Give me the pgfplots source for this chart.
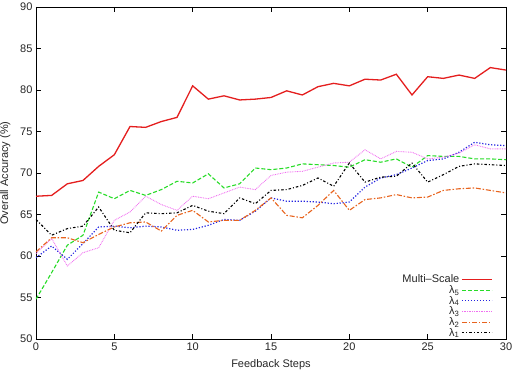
\documentclass[border=0pt]{standalone}
\usepackage{fontspec}
\setmainfont{Liberation Sans}
\usepackage{pgfplots}
\pgfplotsset{compat=1.18}
\definecolor{cRed}{RGB}{228,30,30}
\definecolor{cGreen}{RGB}{40,220,40}
\definecolor{cBlue}{RGB}{35,35,225}
\definecolor{cMag}{RGB}{240,110,240}
\definecolor{cOrange}{RGB}{232,100,30}
\begin{document}
\begin{tikzpicture}
\useasboundingbox (0,0) rectangle (514pt,374pt);
\begin{axis}[
  at={(36pt,35pt)}, anchor=south west,
  scale only axis, width=470pt, height=332pt,
  xmin=0, xmax=30, ymin=50, ymax=90,
  xtick={0,5,...,30}, ytick={50,55,...,90},
  tick align=inside, tick pos=both,
  major tick length=5pt,
  tick style={black, line width=0.6pt},
  axis line style={black, line width=0.6pt},
  /pgf/number format/assume math mode=true,
  tick label style={font=\fontsize{11}{13}\selectfont, text=black!85},
  label style={font=\fontsize{11}{13}\selectfont, text=black!85},
  xlabel={Feedback Steps},
  ylabel={Overall Accuracy (\%)},
  xlabel style={at={(axis description cs:0.5,0)}, anchor=north, yshift=-17pt},
  ylabel style={at={(axis description cs:0,0.5)}, anchor=south, yshift=22pt},
  legend style={draw=none, fill=none, at={(0.972,0.2)}, anchor=north east,
    font=\fontsize{11}{11}\selectfont, text=black!85, row sep=-2.8pt,
    cells={anchor=east}, inner sep=0pt},
  legend plot pos=right,
  legend image code/.code={\draw[#1] (0pt,0pt) -- (30pt,0pt);},
]
\addplot[cRed, line width=1.3pt] coordinates {
(0,67.2)(1,67.3)(2,68.7)(3,69.1)(4,70.8)(5,72.2)(6,75.6)(7,75.5)(8,76.2)(9,76.7)
(10,80.5)(11,78.9)(12,79.3)(13,78.8)(14,78.9)(15,79.1)(16,79.9)(17,79.4)(18,80.4)(19,80.8)
(20,80.5)(21,81.3)(22,81.2)(23,81.9)(24,79.4)(25,81.6)(26,81.4)(27,81.8)(28,81.4)(29,82.7)(30,82.4)};
\addlegendentry{Multi\textendash Scale}
\addplot[cGreen, line width=1.1pt, dash pattern=on 4pt off 2pt] coordinates {
(0,54.8)(1,58.0)(2,61.3)(3,62.5)(4,67.7)(5,66.9)(6,67.9)(7,67.3)(8,68.0)(9,69.0)
(10,68.8)(11,69.9)(12,68.2)(13,68.7)(14,70.6)(15,70.4)(16,70.6)(17,71.1)(18,71.0)(19,70.9)
(20,70.7)(21,71.6)(22,71.3)(23,71.7)(24,70.7)(25,72.1)(26,72.0)(27,72.0)(28,71.7)(29,71.7)(30,71.6)};
\addlegendentry{λ\textsubscript{5}}
\addplot[cBlue, line width=1.2pt, dash pattern=on 1.2pt off 1.8pt] coordinates {
(0,59.8)(1,61.2)(2,59.6)(3,61.5)(4,63.5)(5,63.6)(6,63.4)(7,63.6)(8,63.5)(9,63.1)
(10,63.2)(11,63.7)(12,64.4)(13,64.3)(14,65.4)(15,67.0)(16,66.6)(17,66.6)(18,66.5)(19,66.3)
(20,66.5)(21,68.3)(22,69.4)(23,69.8)(24,70.6)(25,71.5)(26,71.7)(27,72.5)(28,73.7)(29,73.4)(30,73.3)};
\addlegendentry{λ\textsubscript{4}}
\addplot[cMag, line width=0.9pt, dash pattern=on 0.8pt off 0.9pt] coordinates {
(0,60.3)(1,62.1)(2,58.8)(3,60.4)(4,61.0)(5,64.3)(6,65.3)(7,67.2)(8,66.2)(9,65.5)
(10,67.2)(11,66.9)(12,67.6)(13,68.3)(14,68.0)(15,69.7)(16,70.1)(17,70.2)(18,70.7)(19,71.2)
(20,71.3)(21,72.8)(22,71.7)(23,72.6)(24,72.5)(25,71.7)(26,71.9)(27,72.4)(28,73.4)(29,72.9)(30,72.9)};
\addlegendentry{λ\textsubscript{3}}
\addplot[cOrange, line width=1.1pt, dash pattern=on 5pt off 1.8pt on 1.5pt off 1.8pt] coordinates {
(0,60.5)(1,62.2)(2,62.2)(3,61.6)(4,62.6)(5,63.5)(6,64.0)(7,64.1)(8,63.0)(9,64.9)
(10,65.5)(11,64.1)(12,64.3)(13,64.3)(14,65.5)(15,67.0)(16,64.9)(17,64.6)(18,66.1)(19,67.9)
(20,65.5)(21,66.8)(22,67.0)(23,67.4)(24,67.0)(25,67.1)(26,67.9)(27,68.1)(28,68.2)(29,67.9)(30,67.6)};
\addlegendentry{λ\textsubscript{2}}
\addplot[black, line width=1.1pt, dash pattern=on 2.5pt off 2pt on 1pt off 2pt] coordinates {
(0,64.4)(1,62.5)(2,63.3)(3,63.6)(4,65.9)(5,63.1)(6,62.8)(7,65.2)(8,65.1)(9,65.2)
(10,66.1)(11,65.4)(12,65.1)(13,67.0)(14,66.3)(15,67.9)(16,68.0)(17,68.5)(18,69.4)(19,68.4)
(20,71.2)(21,68.9)(22,69.5)(23,69.6)(24,71.2)(25,68.9)(26,69.8)(27,70.8)(28,71.1)(29,71.0)(30,70.9)};
\addlegendentry{λ\textsubscript{1}}
\end{axis}
\end{tikzpicture}
\end{document}
